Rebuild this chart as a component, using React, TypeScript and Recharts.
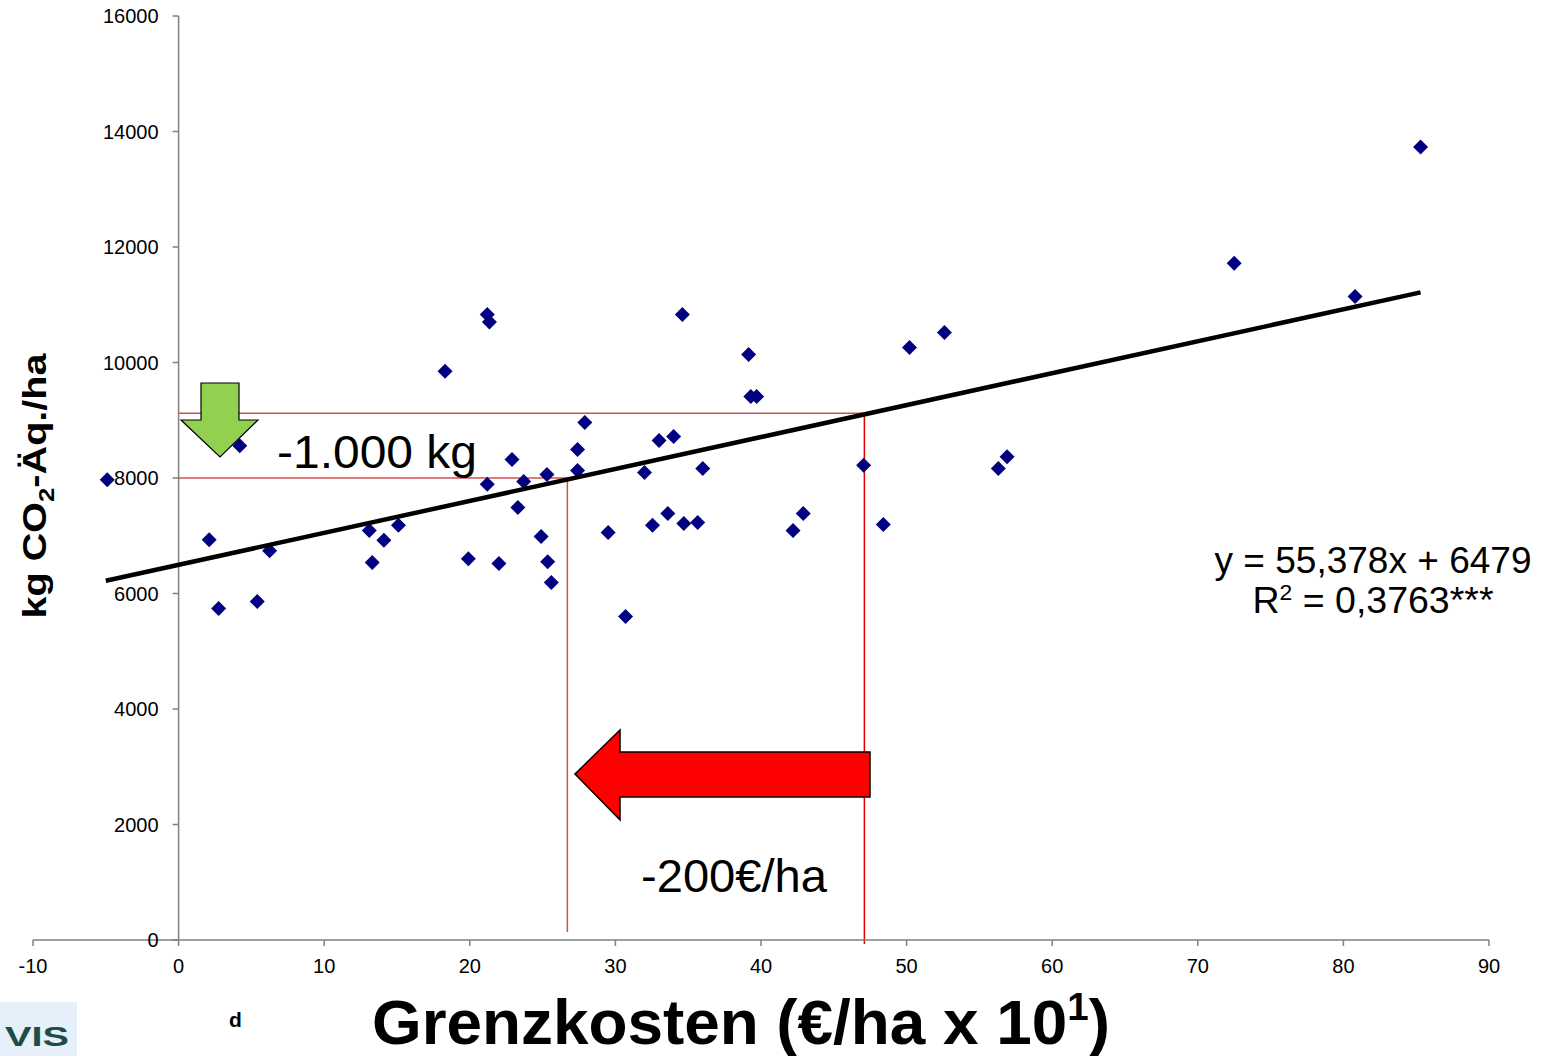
import React from 'react';
import { ReferenceLine, Scatter, ScatterChart, XAxis, YAxis } from 'recharts';

// Grenzkosten (x, €/ha x 10) against kg CO2-Äq./ha (y), one entry per farm
const costX = [
  -4.9, 4.2, 2.1, 2.75, 5.4, 6.25, 13.1, 13.3, 14.1, 15.1,
  18.3, 19.9, 21.2, 21.35, 21.2, 22.0, 22.9, 23.3, 23.7, 24.9,
  25.3, 25.35, 25.6, 27.4, 27.4, 27.9, 29.5, 30.7, 32.0, 32.55,
  33.0, 33.6, 34.0, 34.6, 34.7, 35.65, 36.0, 39.15, 39.3, 39.7,
  42.2, 42.9, 47.05, 48.4, 50.2, 52.6, 56.3, 56.9, 72.5, 80.8, 85.3,
];
const co2Y = [
  7970, 8560, 6930, 5740, 5860, 6740, 7090, 6535, 6920, 7180,
  9850, 6600, 10830, 10700, 7890, 6520, 8320, 7490, 7940, 6985,
  8060, 6550, 6190, 8495, 8130, 8960, 7055, 5600, 8095, 7180,
  8650, 7385, 8720, 10830, 7210, 7230, 8165, 10140, 9410, 9410,
  7090, 7385, 8220, 7195, 10260, 10520, 8165, 8370, 11720, 11145, 13730,
];

// regression line endpoints
const trendX = [-5, 85.3];
const trendY = [6220, 11215];

const xTicks = [-10, 0, 10, 20, 30, 40, 50, 60, 70, 80, 90];
const yTicks = [0, 2000, 4000, 6000, 8000, 10000, 12000, 14000, 16000];

// guide lines: -1.000 kg / -200 €/ha
const guideHighY = 9120;
const guideHighX = 47.1;
const guideLowY = 8000;
const guideLowX = 26.7;

const points = costX.map((x, i) => ({ x, y: co2Y[i] }));
const trend = trendX.map((x, i) => ({ x, y: trendY[i] }));

const FONT = '"Liberation Sans", Arial, sans-serif';
const W = 1554;
const H = 1056;
const PLOT_LEFT = 33;
const PLOT_RIGHT = 1489;
const Y_AXIS_W = 20;
// pixel of x = 0, where the y axis is drawn
const X0 = PLOT_LEFT + (10 / 100) * (PLOT_RIGHT - PLOT_LEFT);

const Diamond = (props: any) => {
  const { cx, cy } = props;
  const r = 7.5;
  return (
    <path
      d={`M${cx},${cy - r} L${cx + r},${cy} L${cx},${cy + r} L${cx - r},${cy} Z`}
      fill="#000080"
    />
  );
};

const YTick = (props: any) => {
  const { y, payload } = props;
  return (
    <g>
      <line x1={X0 - 6} x2={X0} y1={y} y2={y} stroke="#808080" strokeWidth={1.5} />
      <text x={X0 - 20} y={y} dy="0.35em" textAnchor="end" fontSize={20} fontFamily={FONT} fill="#000">
        {payload.value}
      </text>
    </g>
  );
};

const XTick = (props: any) => {
  const { x, y, payload } = props;
  return (
    <text x={x} y={y} dy={21} textAnchor="middle" fontSize={20} fontFamily={FONT} fill="#000">
      {payload.value}
    </text>
  );
};

const Overlay = () => (
  <svg width={W} height={H} style={{ position: 'absolute', left: 0, top: 0, pointerEvents: 'none' }}>
    {/* green arrow */}
    <polygon
      points="201,383 239,383 239,420 258,420 220,457 181,420 201,420"
      fill="#92d050"
      stroke="#000"
      strokeWidth={1.2}
    />
    {/* red arrow */}
    <polygon
      points="575,774 620,730 620,752 870,752 870,797 620,797 620,820"
      fill="#ff0000"
      stroke="#000"
      strokeWidth={1.5}
    />
    <text x={277} y={468} fontSize={46} fontFamily={FONT} textLength={200} lengthAdjust="spacingAndGlyphs">
      -1.000 kg
    </text>
    <text x={641} y={892} fontSize={46} fontFamily={FONT} textLength={186} lengthAdjust="spacingAndGlyphs">
      -200€/ha
    </text>
    <text x={1373} y={573} fontSize={36} fontFamily={FONT} textAnchor="middle" textLength={317} lengthAdjust="spacingAndGlyphs">
      y = 55,378x + 6479
    </text>
    <text x={1373} y={613} fontSize={36} fontFamily={FONT} textAnchor="middle" textLength={241} lengthAdjust="spacingAndGlyphs">
      R<tspan fontSize={22} dy={-13}>2</tspan>
      <tspan dy={13}> = 0,3763***</tspan>
    </text>
    {/* y axis title */}
    <text
      transform="translate(46,486) rotate(-90)"
      textAnchor="middle"
      fontSize={34}
      fontWeight="bold"
      fontFamily={FONT}
      textLength={265}
      lengthAdjust="spacingAndGlyphs"
    >
      kg CO<tspan fontSize={22} dy={8}>2</tspan>
      <tspan dy={-8}>-Äq./ha</tspan>
    </text>
    {/* x axis title */}
    <text x={372} y={1044} fontSize={63} fontWeight="bold" fontFamily={FONT} textLength={738} lengthAdjust="spacingAndGlyphs">
      Grenzkosten (€/ha x 10<tspan fontSize={38} dy={-24}>1</tspan>
      <tspan dy={24}>)</tspan>
    </text>
    <text x={229} y={1027} fontSize={21} fontWeight="bold" fontFamily={FONT}>
      d
    </text>
    {/* logo corner */}
    <rect x={0} y={1002} width={77} height={54} fill="#e6f0fa" />
    <text x={5} y={1046} fontSize={28} fontWeight="bold" fontFamily={FONT} fill="#1e4d48" textLength={64} lengthAdjust="spacingAndGlyphs">
      VIS
    </text>
  </svg>
);

export default function App() {
  return (
    <div style={{ position: 'absolute', left: 0, top: 0, width: W, height: H, background: '#fff' }}>
      <ScatterChart
        width={W}
        height={H}
        margin={{ top: 16, right: W - PLOT_RIGHT, bottom: 86, left: PLOT_LEFT - Y_AXIS_W }}
      >
        <XAxis
          type="number"
          dataKey="x"
          domain={[-10, 90]}
          ticks={xTicks}
          interval={0}
          allowDataOverflow
          height={30}
          tickSize={6}
          tickMargin={6}
          axisLine={{ stroke: '#808080', strokeWidth: 1.5 }}
          tickLine={{ stroke: '#808080', strokeWidth: 1.5 }}
          tick={(p: any) => <XTick {...p} />}
        />
        <YAxis
          type="number"
          dataKey="y"
          domain={[0, 16000]}
          ticks={yTicks}
          interval={0}
          allowDataOverflow
          width={Y_AXIS_W}
          axisLine={false}
          tickLine={false}
          tick={(p: any) => <YTick {...p} />}
        />
        <ReferenceLine x={0} stroke="#808080" strokeWidth={1.5} />
        <ReferenceLine
          segment={[{ x: 0, y: guideHighY }, { x: guideHighX, y: guideHighY }]}
          stroke="#d05050"
          strokeWidth={1.5}
        />
        <ReferenceLine
          segment={[{ x: guideHighX, y: guideHighY }, { x: guideHighX, y: -70 }]}
          stroke="#e00000"
          strokeWidth={1.5}
          ifOverflow="visible"
        />
        <ReferenceLine
          segment={[{ x: 0, y: guideLowY }, { x: guideLowX, y: guideLowY }]}
          stroke="#d05050"
          strokeWidth={1.5}
        />
        <ReferenceLine
          segment={[{ x: guideLowX, y: guideLowY }, { x: guideLowX, y: 140 }]}
          stroke="#d05050"
          strokeWidth={1.5}
        />
        <Scatter data={points} shape={<Diamond />} isAnimationActive={false} />
        <Scatter
          data={trend}
          line={{ stroke: '#000', strokeWidth: 4.5 }}
          shape={() => <g />}
          isAnimationActive={false}
        />
      </ScatterChart>
      <Overlay />
    </div>
  );
}
